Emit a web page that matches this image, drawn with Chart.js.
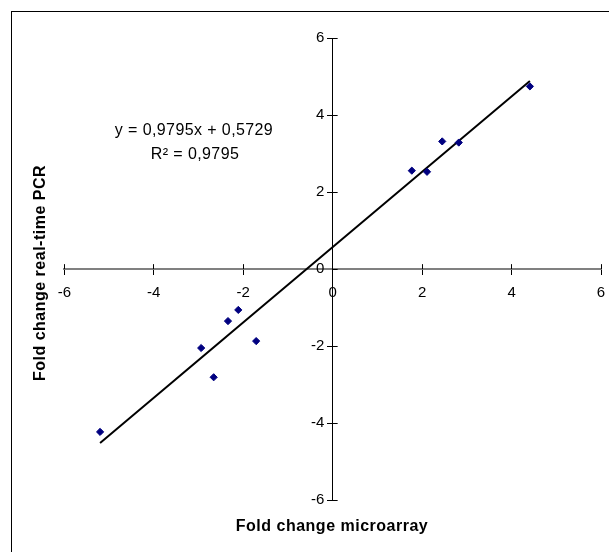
<!DOCTYPE html>
<html>
<head>
<meta charset="utf-8">
<style>
html,body{margin:0;padding:0;background:#fff;overflow:hidden}
#wrap{position:relative;width:609px;height:552px}
canvas{display:block}
</style>
<script src="https://cdn.jsdelivr.net/npm/chart.js@4.4.1/dist/chart.umd.min.js"></script>
</head>
<body>
<div id="wrap"><canvas id="c" width="609" height="552" style="width:609px;height:552px"></canvas></div>
<script>
// ---- data ----
const microarray  = [-5.20, -2.94, -2.66, -2.34, -2.11, -1.71, 1.77, 2.11, 2.45, 2.82, 4.41];
const realtimePCR = [-4.23, -2.05, -2.81, -1.35, -1.06, -1.87, 2.56, 2.53, 3.32, 3.29, 4.75];
const trendSlope = 0.9795;
const trendIntercept = 0.5729;
const axisTicks = [-6, -4, -2, 0, 2, 4, 6];
const equationLines = ['y = 0,9795x + 0,5729', 'R\u00B2 = 0,9795'];
const xTitle = 'Fold change microarray';
const yTitle = 'Fold change real-time PCR';

const FONT = '"Liberation Sans", Arial, Helvetica, sans-serif';

const points = microarray.map((v, i) => ({ x: v, y: realtimePCR[i] }));
const xMin = Math.min(...microarray), xMax = Math.max(...microarray);
const trend = [xMin, xMax].map(v => ({ x: v, y: trendSlope * v + trendIntercept }));

const align1 = p => Math.round(p - 0.5) + 0.5;
const zeroPadding = s => { s.paddingLeft = 0; s.paddingRight = 0; s.paddingTop = 0; s.paddingBottom = 0; };

const decor = {
  id: 'decor',
  beforeDraw(chart) {
    const ctx = chart.ctx;
    ctx.save();
    ctx.fillStyle = '#fff';
    ctx.fillRect(0, 0, chart.width, chart.height);
    ctx.strokeStyle = '#000';
    ctx.lineWidth = 1;
    ctx.strokeRect(11.5, 11.5, chart.width + 40, chart.height + 40);
    ctx.restore();
  },
  afterDraw(chart) {
    const { ctx, scales: { x, y } } = chart;
    ctx.save();
    // second half of the crossing tick marks
    const y0 = y.getPixelForValue(0), x0 = x.getPixelForValue(0);
    ctx.strokeStyle = '#000';
    ctx.lineWidth = 1;
    ctx.beginPath();
    x.ticks.forEach(t => {
      const px = align1(x.getPixelForValue(t.value));
      ctx.moveTo(px, y0 - 5); ctx.lineTo(px, y0);
    });
    y.ticks.forEach(t => {
      const py = align1(y.getPixelForValue(t.value));
      ctx.moveTo(x0, py); ctx.lineTo(x0 + 5, py);
    });
    ctx.stroke();

    // regression equation
    ctx.fillStyle = '#000';
    ctx.textAlign = 'center';
    ctx.textBaseline = 'middle';
    ctx.font = '16px ' + FONT;
    ctx.letterSpacing = '0.4px';
    ctx.fillText(equationLines[0], 194, 130.5);
    ctx.fillText(equationLines[1], 195, 155);

    // axis titles
    ctx.font = 'bold 16px ' + FONT;
    ctx.letterSpacing = '0.5px';
    ctx.fillText(xTitle, 332, 527);
    ctx.translate(40.5, 273);
    ctx.rotate(-Math.PI / 2);
    ctx.fillText(yTitle, 0, 0);
    ctx.restore();
  }
};

new Chart(document.getElementById('c'), {
  type: 'scatter',
  data: {
    datasets: [
      {
        label: 'data',
        data: points,
        pointStyle: 'rectRot',
        pointRadius: 3.6,
        pointBorderWidth: 1,
        backgroundColor: '#000080',
        borderColor: '#000080',
        showLine: false
      },
      {
        label: 'trend',
        type: 'line',
        data: trend,
        borderColor: '#000',
        borderWidth: 2,
        pointRadius: 0,
        fill: false,
        tension: 0
      }
    ]
  },
  options: {
    responsive: false,
    animation: false,
    events: [],
    layout: { padding: { left: 64.3, right: 8, top: 38.3, bottom: 52 } },
    plugins: { legend: { display: false }, tooltip: { enabled: false }, title: { display: false } },
    scales: {
      x: {
        type: 'linear',
        min: -6, max: 6,
        position: { y: 0 },
        afterBuildTicks: s => { s.ticks = axisTicks.map(v => ({ value: v })); },
        afterFit: zeroPadding,
        grid: { drawOnChartArea: false, drawTicks: true, tickLength: 5, tickColor: '#000', tickWidth: 1 },
        border: { display: true, color: '#808080', width: 2 },
        ticks: { color: '#000', font: { family: FONT, size: 15 }, padding: 10, maxRotation: 0, autoSkip: false }
      },
      y: {
        type: 'linear',
        min: -6, max: 6,
        position: { x: 0 },
        afterBuildTicks: s => { s.ticks = axisTicks.map(v => ({ value: v })); },
        afterFit: zeroPadding,
        grid: { drawOnChartArea: false, drawTicks: true, tickLength: 5, tickColor: '#000', tickWidth: 1 },
        border: { display: true, color: '#000', width: 1 },
        ticks: {
          color: '#000', font: { family: FONT, size: 15 }, padding: 4, autoSkip: false,
          callback: v => v + '\u2007'
        }
      }
    }
  },
  plugins: [decor]
});
</script>
</body>
</html>
